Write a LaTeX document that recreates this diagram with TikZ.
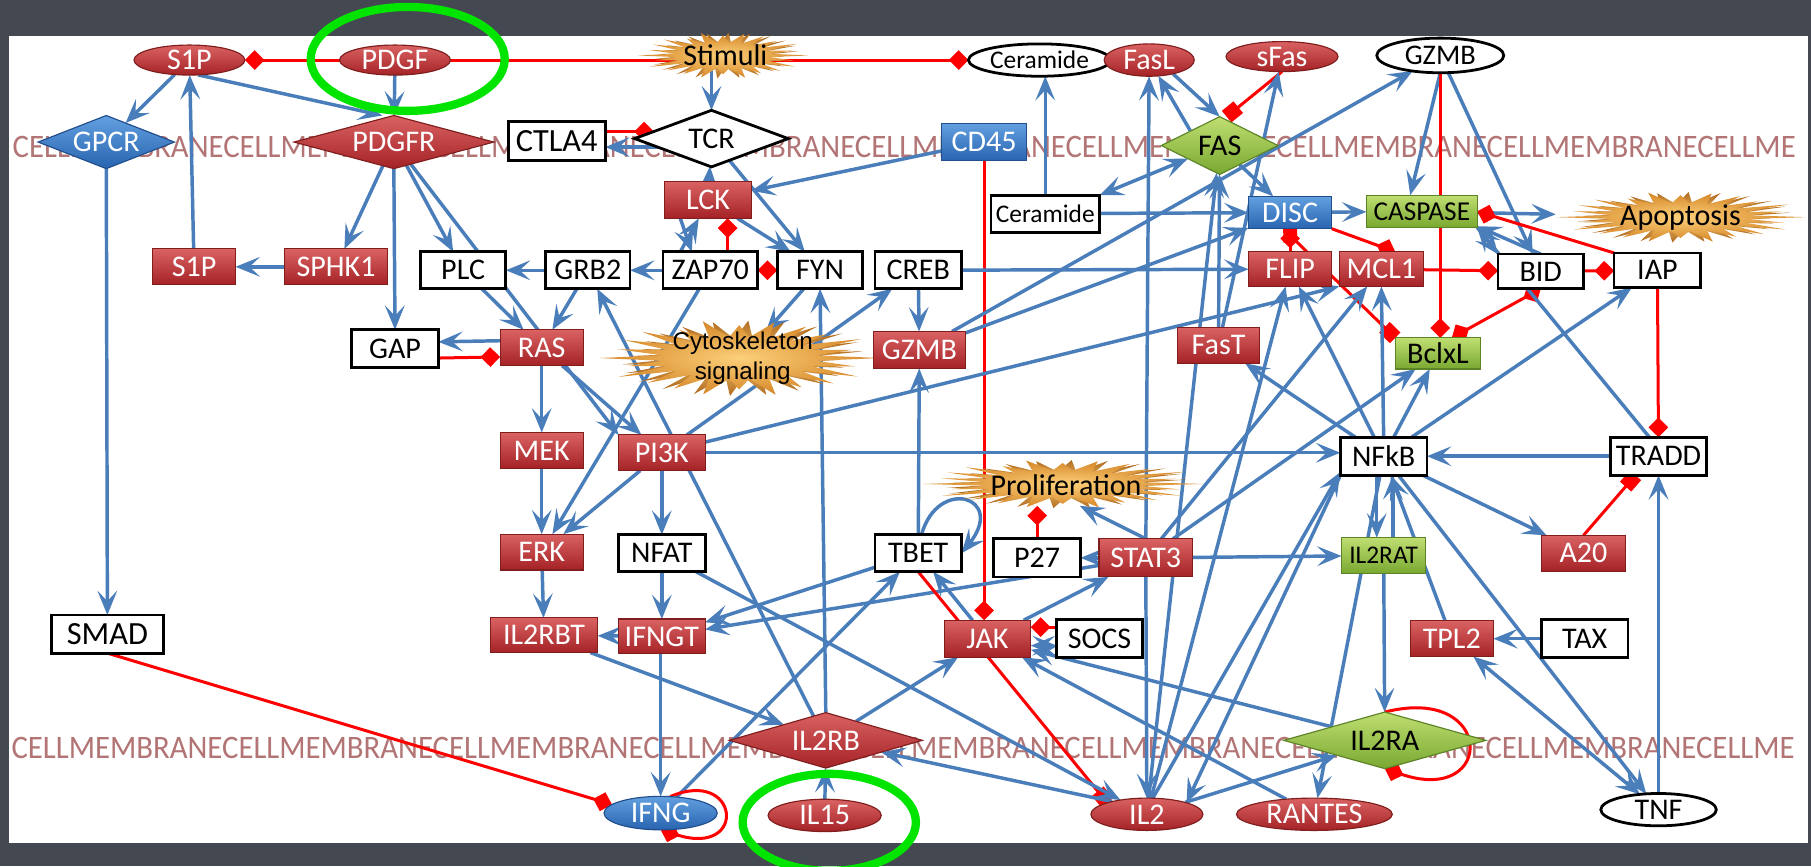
\documentclass[tikz,border=0pt]{standalone}
\usepackage{fontspec}
\setmainfont{Carlito}
\newfontfamily\arialf{Liberation Sans}
\usepackage{graphicx}
\usetikzlibrary{arrows.meta,shapes.geometric,calc}
\pgfdeclarelayer{panel}
\pgfdeclarelayer{edges}
\pgfsetlayers{panel,edges,main}

\definecolor{slate}{RGB}{68,72,80}
\definecolor{eblue}{RGB}{74,126,187}
\definecolor{ered}{RGB}{255,0,0}
\definecolor{redtop}{RGB}{218,98,98}
\definecolor{redbot}{RGB}{164,34,38}
\definecolor{reddark}{RGB}{128,30,30}
\definecolor{bluetop}{RGB}{98,160,224}
\definecolor{bluebot}{RGB}{40,100,176}
\definecolor{bluedark}{RGB}{34,78,140}
\definecolor{greentop}{RGB}{192,222,114}
\definecolor{greenbot}{RGB}{120,168,48}
\definecolor{greendark}{RGB}{92,132,38}
\definecolor{membrane}{RGB}{178,116,116}
\definecolor{burstin}{RGB}{252,208,122}
\definecolor{burstout}{RGB}{214,135,40}
\definecolor{burstdark}{RGB}{176,106,30}
\definecolor{ringgreen}{RGB}{0,228,0}

\newcommand\lblfont{\fontsize{13}{15}\selectfont}

\tikzset{
  Act/.tip={Stealth[length=10.5pt,width=8.5pt,inset=4.5pt]},
  Inh/.tip={Turned Square[length=8.5pt,width=8.5pt]},
  Blk/.tip={Square[length=6.5pt,width=6.5pt]},
}

% starburst: centre x, centre y, x radius, y radius (drawing units)
\newcommand\drawburst[4]{%
  \shade[inner color=burstin, outer color=burstdark]
    plot[samples at={0,...,47}, variable=\k]
    ({#1+((isodd(\k)==1)?0.5:(0.72+0.28*abs(sin(\k*97))))*#3*cos(\k*7.5+3.75)},
     {#2+((isodd(\k)==1)?0.5:(0.72+0.28*abs(sin(\k*97))))*#4*sin(\k*7.5+3.75)}) -- cycle;
  \shade[inner color=burstin, outer color=burstout]
    plot[samples at={0,...,47}, variable=\k]
    ({#1+((isodd(\k)==1)?0.55:(0.8+0.2*abs(cos(\k*53))))*#3*cos(\k*7.5)},
     {#2+((isodd(\k)==1)?0.55:(0.8+0.2*abs(cos(\k*53))))*#4*sin(\k*7.5)}) -- cycle;
}

\begin{document}
\begin{tikzpicture}[x=0.5pt,y=-0.5pt,
  every node/.style={inner sep=0pt, outer sep=0pt},
  rbox/.style={rectangle, top color=redtop, bottom color=redbot, draw=reddark, line width=0.5pt, text=white, font=\lblfont, minimum height=15.5pt},
  bbox/.style={rectangle, top color=bluetop, bottom color=bluebot, draw=bluedark, line width=0.5pt, text=white, font=\lblfont, minimum height=15.5pt},
  gbox/.style={rectangle, top color=greentop, bottom color=greenbot, draw=greendark, line width=0.5pt, text=black, font=\lblfont, minimum height=14.5pt},
  wbox/.style={rectangle, fill=white, draw=black, line width=1.2pt, text=black, font=\lblfont, minimum height=16pt},
  rell/.style={ellipse, top color=redtop, bottom color=redbot, draw=reddark, line width=0.5pt, text=white, font=\lblfont},
  bell/.style={ellipse, top color=bluetop, bottom color=bluebot, draw=bluedark, line width=0.5pt, text=white, font=\lblfont},
  well/.style={ellipse, fill=white, draw=black, line width=1.2pt, text=black, font=\lblfont},
  rdia/.style={diamond, top color=redtop, bottom color=redbot, draw=reddark, line width=0.5pt, text=white, font=\lblfont},
  bdia/.style={diamond, top color=bluetop, bottom color=bluebot, draw=bluedark, line width=0.5pt, text=white, font=\lblfont},
  gdia/.style={diamond, top color=greentop, bottom color=greenbot, draw=greendark, line width=0.5pt, text=black, font=\lblfont},
  wdia/.style={diamond, fill=white, draw=black, line width=1.2pt, text=black, font=\lblfont},
  burstlabel/.style={rectangle, text=black, font=\lblfont},
  act/.style={draw=eblue, line width=1.5pt, -Act},
  inh/.style={draw=ered, line width=1.3pt, -Inh},
  ring/.style={ellipse, draw=ringgreen, line width=3.6pt},
  memtext/.style={anchor=west, text=membrane, font=\fontsize{13.3}{16}\selectfont},
]
\useasboundingbox (0,0) rectangle (1568,750);

% ---------- backdrop, panel and membrane lettering ----------
\begin{pgfonlayer}{panel}
  \fill[slate] (0,0) rectangle (1568,750);
  \fill[white] (8,31) rectangle (1565,730);
  \node[memtext] (memtop) at (11,127) {\resizebox{772pt}{9.2pt}{CELLMEMBRANECELLMEMBRANECELLMEMBRANECELLMEMBRANECELLMEMBRANECELLMEMBRANECELLMEMBRANECELLMEMBRANECELLME}};
  \node[memtext] (membot) at (10,648) {\resizebox{772pt}{9.2pt}{CELLMEMBRANECELLMEMBRANECELLMEMBRANECELLMEMBRANECELLMEMBRANECELLMEMBRANECELLMEMBRANECELLMEMBRANECELLME}};
\end{pgfonlayer}

% ---------- starbursts ----------
\drawburst{626}{48}{74}{20}
\drawburst{1455}{188}{108}{22}
\drawburst{640}{310}{122}{33}
\drawburst{920}{419}{122}{21}

\node[burstlabel] (stim) at (628,48) {Stimuli};
\node[burstlabel, font={\arialf\fontsize{10.5}{13}\selectfont}, align=center] (cyto) at (643,310) {Cytoskeleton\\signaling};
\node[burstlabel, minimum width=108pt] (apop) at (1455,188) {Apoptosis};
\node[burstlabel, minimum height=18pt] (prolif) at (923,420) {Proliferation};

% ---------- ligands (top) ----------
\node[rell, minimum width=48pt, minimum height=13pt] (s1pE) at (164,52) {S1P};
\node[rell, minimum width=48pt, minimum height=13pt] (pdgf) at (342,52) {PDGF};
\node[well, minimum width=61.5pt, minimum height=14pt, font=\fontsize{11}{13}\selectfont] (cerE) at (900,52) {Ceramide};
\node[rell, minimum width=39pt, minimum height=14pt] (fasl) at (995,52) {FasL};
\node[rell, minimum width=48.5pt, minimum height=13pt] (sfas) at (1110,49) {sFas};
\node[well, minimum width=55pt, minimum height=15pt, font=\fontsize{12.3}{14}\selectfont] (gzmbE) at (1247,48) {GZMB};

% ---------- membrane receptors ----------
\node[bdia, shape aspect=2.6, minimum width=59pt, minimum height=23pt] (gpcr) at (92,123) {GPCR};
\node[rdia, shape aspect=3.7, minimum width=86.5pt, minimum height=23pt] (pdgfr) at (341,123) {PDGFR};
\node[wbox, minimum width=42pt, minimum height=17pt, font=\fontsize{14}{16}\selectfont] (ctla4) at (482,122) {CTLA4};
\node[wdia, shape aspect=2.7, minimum width=66.5pt, minimum height=24.5pt] (tcr) at (616,120) {TCR};
\node[bbox, minimum width=36.5pt, minimum height=16pt] (cd45) at (852,123) {CD45};
\node[gdia, shape aspect=2, minimum width=50.5pt, minimum height=25pt] (fas) at (1056,126) {FAS};

% ---------- cytoplasm ----------
\node[rbox, minimum width=37.5pt, minimum height=16pt] (lck) at (613,173) {LCK};
\node[wbox, minimum width=47pt, font=\fontsize{11}{13}\selectfont] (cerB) at (905,185) {Ceramide};
\node[bbox, minimum width=36pt, minimum height=14pt] (disc) at (1117,184) {DISC};
\node[gbox, minimum width=48pt, minimum height=14pt, font=\fontsize{11.8}{14}\selectfont] (casp) at (1231,183) {CASPASE};

\node[rbox, minimum width=36pt] (s1pR) at (168,231) {S1P};
\node[rbox, minimum width=44.5pt] (sphk1) at (291,231) {SPHK1};
\node[wbox, minimum width=37pt] (plc) at (401,234) {PLC};
\node[wbox, minimum width=36.5pt] (grb2) at (509,234) {GRB2};
\node[wbox, minimum width=41pt] (zap70) at (615,234) {ZAP70};
\node[wbox, minimum width=37pt] (fyn) at (710,234) {FYN};
\node[wbox, minimum width=37.5pt] (creb) at (795,234) {CREB};
\node[rbox, minimum width=36pt, minimum height=15pt] (flip) at (1117,233) {FLIP};
\node[rbox, minimum width=36.5pt, minimum height=15pt] (mcl1) at (1196,233) {MCL1};
\node[wbox, minimum width=37pt, minimum height=15pt] (bid) at (1334,235) {BID};
\node[wbox, minimum width=37.5pt, minimum height=15pt] (iap) at (1435,234) {IAP};

\node[wbox, minimum width=37.5pt, minimum height=16.5pt] (gap) at (342,302) {GAP};
\node[rbox, minimum width=36pt] (ras) at (469,301) {RAS};
\node[rbox, minimum width=40pt, minimum height=16pt] (gzmbR) at (796,303) {GZMB};
\node[rbox, minimum width=35.5pt] (fast) at (1055,299) {FasT};
\node[gbox, minimum width=37pt, minimum height=13.5pt] (bclxl) at (1245,306) {BclxL};

\node[rbox, minimum width=36pt] (mek) at (469,390) {MEK};
\node[rbox, minimum width=37.5pt] (pi3k) at (573,392) {PI3K};
\node[wbox, minimum width=37.5pt, minimum height=16.5pt] (nfkb) at (1198,395) {NFkB};
\node[wbox, minimum width=41.5pt, minimum height=16.5pt] (tradd) at (1436,395) {TRADD};

\node[rbox, minimum width=36pt] (erk) at (469,478) {ERK};
\node[wbox, minimum width=37.5pt] (nfat) at (573,479) {NFAT};
\node[wbox, minimum width=37.5pt] (tbet) at (795,479) {TBET};
\node[wbox, minimum width=37.5pt, minimum height=16.5pt] (p27) at (898,483) {P27};
\node[rbox, minimum width=40.5pt, minimum height=16.5pt] (stat3) at (992,483) {STAT3};
\node[gbox, minimum width=36.5pt, minimum height=15.5pt, font=\fontsize{11}{13}\selectfont] (il2rat) at (1198,481) {IL2RAT};
\node[rbox, minimum width=36.5pt] (a20) at (1371,479) {A20};

\node[wbox, minimum width=48.5pt, minimum height=16.5pt, font=\fontsize{14}{16}\selectfont] (smad) at (93,549) {SMAD};
\node[rbox, minimum width=46.5pt, minimum height=15pt] (il2rbt) at (471,550) {IL2RBT};
\node[rbox, minimum width=37.5pt, minimum height=15pt] (ifngt) at (573,551) {IFNGT};
\node[rbox, minimum width=37.5pt, minimum height=16pt] (jak) at (855,553) {JAK};
\node[wbox, minimum width=37pt, minimum height=16.5pt] (socs) at (952,553) {SOCS};
\node[rbox, minimum width=36pt] (tpl2) at (1257,553) {TPL2};
\node[wbox, minimum width=37.5pt, minimum height=16.5pt] (tax) at (1372,553) {TAX};

% ---------- lower membrane and extracellular ----------
\node[rdia, shape aspect=3.5, minimum width=83.5pt, minimum height=24pt] (il2rb) at (715,641) {IL2RB};
\node[gdia, shape aspect=3.5, minimum width=87.5pt, minimum height=24.5pt] (il2ra) at (1199,641) {IL2RA};
\node[bell, minimum width=49pt, minimum height=14.5pt] (ifng) at (572,704) {IFNG};
\node[rell, minimum width=49pt, minimum height=14pt] (il15) at (714,706) {IL15};
\node[rell, minimum width=48.5pt, minimum height=14pt] (il2) at (993,705) {IL2};
\node[rell, minimum width=67.5pt, minimum height=14pt] (rantes) at (1138,705) {RANTES};
\node[well, minimum width=50pt, minimum height=14pt] (tnf) at (1436,701) {TNF};

\coordinate (tcrl) at ($(tcr.west)!0.25!(tcr.north)$);
\coordinate (tcrb) at ($(tcr.west)!0.3!(tcr.south)$);

% ---------- interactions ----------
\begin{pgfonlayer}{edges}
  % top row
  \draw[inh, Inh-Inh] (s1pE) -- (cerE);
  \draw[act] (pdgf) -- (pdgfr);
  \draw[act] (s1pE) -- (gpcr);
  \draw[act] (s1pE.-60) -- ([xshift=-5pt]pdgfr.north);
  \draw[act] (s1pR) -- (s1pE);
  \draw[act] (gpcr) -- (smad);
  \draw[act] (sphk1) -- (s1pR);
  \draw[act] (pdgfr) -- (sphk1);
  \draw[act] (pdgfr.south) -- (gap.north);
  \draw[act] (pdgfr) -- (plc);
  \draw[act] (pdgfr) -- (pi3k.north west);
  \draw[act] (stim.south -| tcr.north) -- (tcr.north);
  \draw[inh] (ctla4.east |- tcrl) -- (tcrl);
  \draw[act] (tcrb) -- (tcrb -| ctla4.east);
  \draw[act] (lck) -- (tcr);
  \draw[act] (tcr) -- (fyn);
  \draw[act] (lck) -- (fyn);
  \draw[act] ([xshift=-12pt]lck.south) -- ([xshift=-8pt]zap70.north);
  \draw[act] ([xshift=-13pt]zap70.north) -- ([xshift=-4pt]lck.south);
  \draw[inh] ([xshift=7.5pt]zap70.north) -- ([xshift=8.5pt]lck.south);
  \draw[inh] (fyn) -- (zap70);
  \draw[act] (cd45) -- (lck);
  \draw[inh] (cd45.south) -- (cd45.south |- jak.north);

  % PDGF / RAS block
  \draw[act] (grb2) -- (plc);
  \draw[act] (zap70) -- (grb2);
  \draw[act] (grb2) -- (ras);
  \draw[act] (plc) -- (ras);
  \draw[act] ([yshift=3pt]ras.west) -- ([yshift=3pt]gap.east);
  \draw[inh] ([yshift=-4pt]gap.east) -- ([yshift=-4pt]ras.west);
  \draw[act] (ras) -- (mek);
  \draw[act] (mek) -- (erk);
  \draw[act] (ras) -- (pi3k);
  \draw[act] (pi3k) -- (erk);
  \draw[act] (zap70) -- (erk);
  \draw[act] (il2rb) -- (grb2);
  \draw[act] (pi3k) -- (nfat);
  \draw[act] (nfat) -- (ifngt);
  \draw[act] (erk) -- (il2rbt);
  \draw[act] (ifngt) -- (il2rbt);
  \draw[act] (il2rbt) -- (il2rb);
  \draw[act] (ifngt.south -| ifng.north) -- (ifng.north);
  \draw[act] (il2rb.north) -- (fyn.south);
  \draw[act] (fyn) -- (cyto);
  \draw[act] (pi3k) -- (creb);
  \draw[act] (creb) -- (gzmbR);
  \draw[act] (tbet) -- (gzmbR);
  \draw[act] (pi3k) -- (mcl1.south west);
  \draw[act] (pi3k.east) -- (pi3k.east -| nfkb.west);

  % death receptor block
  \draw[act] (gzmbR) -- (gzmbE);
  \draw[act] (gzmbR) -- (disc);
  \draw[act] (cerB.north) -- (cerB.north |- cerE.south);
  \draw[act] (cerB) -- (disc);
  \draw[act, Act-Act] (cerB.north east) -- (fas);
  \draw[act] (fasl.-30) -- (fas.north);
  \draw[act] (fas.north west) -- (fasl);
  \draw[inh, -Blk] (sfas.south) -- ([xshift=3pt]fas.north);
  \draw[act] (fast) -- (sfas);
  \draw[act] (fast) -- (fas);
  \draw[act] (stat3) -- (fasl);
  \draw[act] (stat3) -- (il2);
  \draw[act] (fas) -- (disc);
  \draw[act] (gzmbE.south) -- ([xshift=-5pt]casp.north);
  \draw[inh] (gzmbE.south) -- (gzmbE.south |- bclxl.north);
  \draw[act] (gzmbE) -- (bid);
  \draw[act] (casp) -- (apop);
  \draw[act] (casp.south east) -- (bid.north west);
  \draw[act] (bid.north) -- (casp.-15);
  \draw[act] (disc) -- (casp);
  \draw[inh] (iap.north west) -- (casp.east);
  \draw[inh] (mcl1) -- (bid);
  \draw[inh] (bid) -- (iap);
  \draw[inh, Inh-Inh] ([xshift=6pt]bclxl.north) -- (bid.south);
  \draw[inh] (iap) -- (tradd);
  \draw[inh, -Blk] (a20.north) -- ([xshift=-10pt]tradd.south);
  \draw[act] (nfkb) -- (a20);
  \draw[act] (tradd) -- (nfkb);
  \draw[act] ([xshift=-4pt]tradd.north) -- (casp.south east);
  \draw[act] (tnf) -- (tradd);
  \draw[act, Act-Act] (tpl2) -- (tnf);
  \draw[act] (tax) -- (tpl2);
  \draw[act] (nfkb) -- (tnf);
  \draw[act] (tpl2) -- (nfkb);
  \draw[inh] (flip) -- (disc);
  \draw[inh, Inh-Blk] ([xshift=-3pt]disc.south) -- (bclxl.north west);
  \draw[inh] (disc.south east) -- ([xshift=6pt]mcl1.north);
  \draw[act] (creb) -- (flip);

  % NFkB and STAT3 outputs
  \draw[act] (il2rat) -- (il2ra);
  \draw[act] (stat3) -- (il2rat);
  \draw[act] ([xshift=-3pt]nfkb.south) -- ([xshift=-3pt]il2rat.north);
  \draw[act] ([xshift=4pt]il2rat.north) -- ([xshift=4pt]nfkb.south);
  \draw[act] (stat3) -- (p27);
  \draw[inh] (p27.north) -- (p27.north |- prolif.south);
  \draw[act] (stat3.north) -- ([xshift=6pt]prolif.south);
  \draw[act] (nfkb) -- (flip);
  \draw[act] (nfkb.north) -- (mcl1.south);
  \draw[act] (nfkb) -- (bclxl);
  \draw[act] (nfkb) -- (iap);
  \draw[act] (nfkb) -- (fast);
  \draw[act] (stat3) -- (mcl1);
  \draw[act] (stat3) -- (bclxl);
  \draw[act] (nfkb) -- (rantes);
  \draw[act] (nfkb.south west) -- (il2.north east);
  \draw[act] (il2.70) -- (nfkb.200);
  \draw[act] (il2) -- (flip);
  \draw[act] (il2) -- (fas);

  % JAK / TBET / IL2 block
  \draw[act] (jak) -- (stat3);
  \draw[act] (stat3) -- (ifngt);
  \draw[act] (tbet) -- (ifngt);
  \draw[act] (tbet.80) .. controls (812,412) and (872,430) .. (tbet.east);
  \draw[inh, -Blk] (tbet.south) -- (il2.north west);
  \draw[act] (jak) -- (tbet);
  \draw[inh] ([yshift=5pt]socs.west) -- ([yshift=5pt]jak.east);
  \draw[act, Act-Act] ([yshift=-3pt]jak.east) -- ([yshift=-3pt]socs.west);
  \draw[act] (il2rb) -- (jak);
  \draw[act] (ifng) -- (tbet);
  \draw[act] (il15) -- (il2rb);
  \draw[act] (il2.160) -- (il2rb);
  \draw[act] (il2) -- (il2ra);
  \draw[act] (nfat) -- (il2);
  \draw[act] (il2ra) -- (jak);
  \draw[act] (rantes) -- (jak);
  \draw[inh] (smad.south) -- (ifng.170);
  \draw[inh] (ifng.60) .. controls (640,664) and (648,742) .. (ifng.south);
  \draw[inh] (il2ra.north) .. controls (1295,592) and (1295,698) .. (il2ra.south);
\end{pgfonlayer}

% ---------- highlight rings ----------
\node[ring, minimum width=84pt, minimum height=45pt] (ringA) at (353,51) {};
\node[ring, minimum width=75pt, minimum height=42pt] (ringB) at (718,712) {};
\end{tikzpicture}
\end{document}
